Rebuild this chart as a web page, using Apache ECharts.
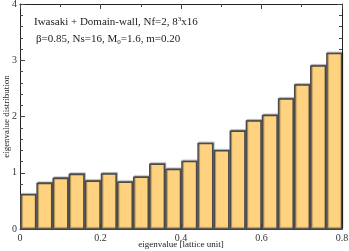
<!DOCTYPE html>
<html><head><meta charset="utf-8">
<script src="https://cdn.jsdelivr.net/npm/echarts@6/dist/echarts.min.js"></script>
<style>html,body{margin:0;padding:0;background:#fff}#c{width:349px;height:251px}</style>
</head><body><div id="c"></div>
<script>
const binStarts = [0,0.04,0.08,0.12,0.16,0.20,0.24,0.28,0.32,0.36,0.40,0.44,0.48,0.52,0.56,0.60,0.64,0.68,0.72,0.76];
const binWidth = 0.04;
const values = [0.61,0.81,0.90,0.97,0.85,0.98,0.83,0.92,1.15,1.06,1.20,1.52,1.39,1.74,1.92,2.02,2.31,2.56,2.90,3.12];
const xTicks = [0,0.2,0.4,0.6,0.8];
const yTicks = [0,1,2,3,4];

const font = 'Liberation Serif';
const chart = echarts.init(document.getElementById('c'), null, {renderer:'canvas'});
const axisCommon = {
  axisLine:{show:true,onZero:false,lineStyle:{color:'#222',width:1}},
  axisTick:{show:true,inside:true,length:5,lineStyle:{color:'#444',width:1}},
  splitLine:{show:false}
};
function mt(n){return {minorTick:{show:true,splitNumber:n,length:3,lineStyle:{color:'#444',width:1}}};}
chart.setOption({
  animation:false,
  grid:{left:20,right:7,top:4,bottom:22,containLabel:false,outerBoundsMode:'none'},
  xAxis:[
    Object.assign({type:'value',min:0,max:0.8,interval:0.2,position:'bottom',
      axisLabel:{fontFamily:font,fontSize:10,color:'#333',margin:4,
        formatter:v=>String(+(+v).toFixed(2))},
      name:'eigenvalue [lattice unit]',nameLocation:'middle',nameGap:11,nameMoveOverlap:false,
      nameTextStyle:{fontFamily:font,fontSize:9,color:'#222'}},axisCommon,mt(2)),
    Object.assign({type:'value',min:0,max:0.8,interval:0.2,position:'top',
      axisLabel:{show:false}},axisCommon,mt(2))
  ],
  yAxis:[
    Object.assign({type:'value',min:0,max:4,interval:1,position:'left',
      axisLabel:{fontFamily:font,fontSize:10,color:'#333',margin:3},
      name:'eigenvalue distribution',nameLocation:'middle',nameGap:9,nameMoveOverlap:false,
      nameTextStyle:{fontFamily:font,fontSize:9,color:'#222'}},axisCommon,mt(5)),
    Object.assign({type:'value',min:0,max:4,interval:1,position:'right',
      axisLabel:{show:false}},axisCommon,mt(5))
  ],
  series:[{
    type:'custom',
    xAxisIndex:0,yAxisIndex:0,
    data:binStarts.map((s,i)=>[s,s+binWidth,values[i]]),
    renderItem:function(params,api){
      const p0 = api.coord([api.value(0),0]);
      const p1 = api.coord([api.value(1),api.value(2)]);
      const x = p0[0]+1, w = p1[0]-p0[0]-1.5;
      return {type:'rect',
        shape:{x:x,y:p1[1],width:w,height:p0[1]-p1[1]},
        style:{fill:'#FFD27F',stroke:'#4a4a4a',lineWidth:1.5,
          shadowColor:'rgba(0,0,0,0.35)',shadowOffsetX:1,shadowOffsetY:-1,shadowBlur:1}};
    }
  }],
  graphic:[
    {type:'text',x:34,y:16,style:{
      text:'Iwasaki + Domain-wall, Nf=2, 8{sup|3}x16',
      rich:{sup:{fontSize:7,verticalAlign:'top',fontFamily:font,fill:'#222',padding:[0,0,6,0]}},
      fontFamily:font,fontSize:11,fill:'#222'}},
    {type:'text',x:36,y:33,style:{
      text:'β=0.85, Ns=16, M{sub|0}=1.6, m=0.20',
      rich:{sub:{fontSize:7,fontFamily:font,fill:'#222',padding:[6,0,0,0]}},
      fontFamily:font,fontSize:11,fill:'#222'}}
  ]
});
</script></body></html>
